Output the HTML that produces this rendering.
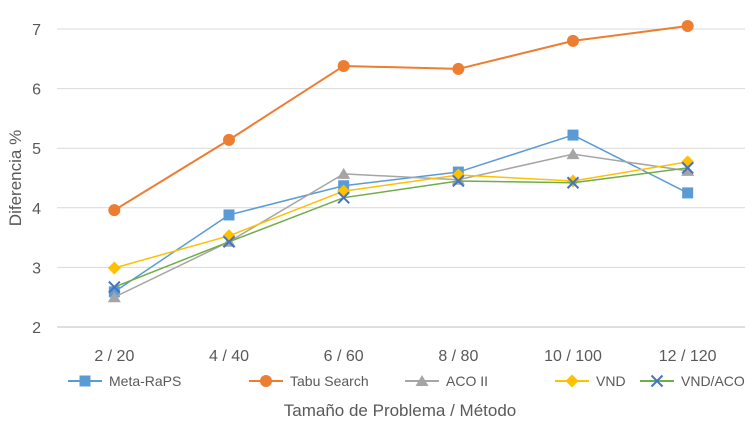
<!DOCTYPE html>
<html><head><meta charset="utf-8"><style>
body{margin:0;background:#fff;font-family:"Liberation Sans",sans-serif;}
svg text{font-family:"Liberation Sans",sans-serif;fill:#595959;}
</style></head><body>
<svg id="chart" width="756" height="430" viewBox="0 0 756 430" xmlns="http://www.w3.org/2000/svg">
<g id="grid"></g>
<g id="yticks"></g>
<g id="xticks"></g>
<g id="series"></g>
<text transform="translate(21,178) rotate(-90)" text-anchor="middle" font-size="17">Diferencia %</text>
<text x="400" y="416" text-anchor="middle" font-size="17">Tamaño de Problema / Método</text>
<g id="legend"></g>
</svg>
<script>
const categories=["2 / 20","4 / 40","6 / 60","8 / 80","10 / 100","12 / 120"];
const yTicks=[2,3,4,5,6,7];
const seriesNames=["Meta-RaPS","Tabu Search","ACO II","VND","VND/ACO"];
const metaRaps=[2.59,3.88,4.37,4.6,5.22,4.25];
const tabu=[3.96,5.14,6.38,6.33,6.8,7.05];
const aco=[2.5,3.43,4.57,4.47,4.9,4.62];
const vnd=[2.99,3.53,4.28,4.55,4.45,4.77];
const vndAco=[2.67,3.43,4.17,4.45,4.42,4.67];
const allSeries=[metaRaps,tabu,aco,vnd,vndAco];
const lineColors=["#5B9BD5","#ED7D31","#A5A5A5","#FFC000","#70AD47"];
const markerColors=["#5B9BD5","#ED7D31","#A5A5A5","#FFC000","#4472C4"];
const markers=["square","circle","triangle","diamond","x"];
const NS="http://www.w3.org/2000/svg";
const X0=57,X1=745,Y0=327,Y1=29;
const x=i=>X0+(X1-X0)/categories.length*(i+0.5);
const y=v=>Y0-(v-2)/(7-2)*(Y0-Y1);
function mk(t,a,p){const e=document.createElementNS(NS,t);for(const k in a)e.setAttribute(k,a[k]);p.appendChild(e);return e;}
const grid=document.getElementById('grid'),yt=document.getElementById('yticks'),xt=document.getElementById('xticks');
yTicks.forEach(v=>{
 const l=mk('line',{x1:X0,x2:X1,y1:y(v),y2:y(v),stroke:v===2?'#BFBFBF':'#D9D9D9','stroke-width':1},grid);
 
 
 const t=mk('text',{x:41,y:y(v)+6,'text-anchor':'end','font-size':16},yt);t.textContent=v;
 
 
});
categories.forEach((c,i)=>{
 const t=mk('text',{x:x(i),y:361,'text-anchor':'middle','font-size':16},xt);t.textContent=c;
 
 
});
function marker(type,cx,cy,col,p){
 let e;
 if(type==='square')e=mk('rect',{x:cx-5.5,y:cy-5.5,width:11,height:11,fill:col},p);
 else if(type==='circle')e=mk('circle',{cx:cx,cy:cy,r:6,fill:col},p);
 else if(type==='triangle')e=mk('polygon',{points:`${cx},${cy-6} ${cx+6.5},${cy+5} ${cx-6.5},${cy+5}`,fill:col},p);
 else if(type==='diamond')e=mk('polygon',{points:`${cx},${cy-6.5} ${cx+6.5},${cy} ${cx},${cy+6.5} ${cx-6.5},${cy}`,fill:col},p);
 else e=mk('path',{d:`M${cx-5.5} ${cy-5.5}L${cx+5.5} ${cy+5.5}M${cx+5.5} ${cy-5.5}L${cx-5.5} ${cy+5.5}`,stroke:col,'stroke-width':2,fill:'none'},p);
 return e;
}
const sg=document.getElementById('series');
allSeries.forEach((data,s)=>{
 const g=mk('g',{},sg);
 
 
 const pl=mk('polyline',{points:data.map((v,i)=>x(i)+','+y(v)).join(' '),fill:'none',stroke:lineColors[s],'stroke-width':s===1?2:1.5},g);
 
 
 data.forEach((v,i)=>{const m=marker(markers[s],x(i),y(v),markerColors[s],g);
  
  });
});
const lg=document.getElementById('legend');
const lx=[68,249,405,555,640];
seriesNames.forEach((n,s)=>{
 const g=mk('g',{},lg);
 
 
 mk('line',{x1:lx[s],x2:lx[s]+34,y1:381,y2:381,stroke:lineColors[s],'stroke-width':2},g);
 marker(markers[s],lx[s]+17,381,markerColors[s],g);
 const t=mk('text',{x:lx[s]+41,y:386,'font-size':14},g);t.textContent=n;
});
</script>
</body></html>
